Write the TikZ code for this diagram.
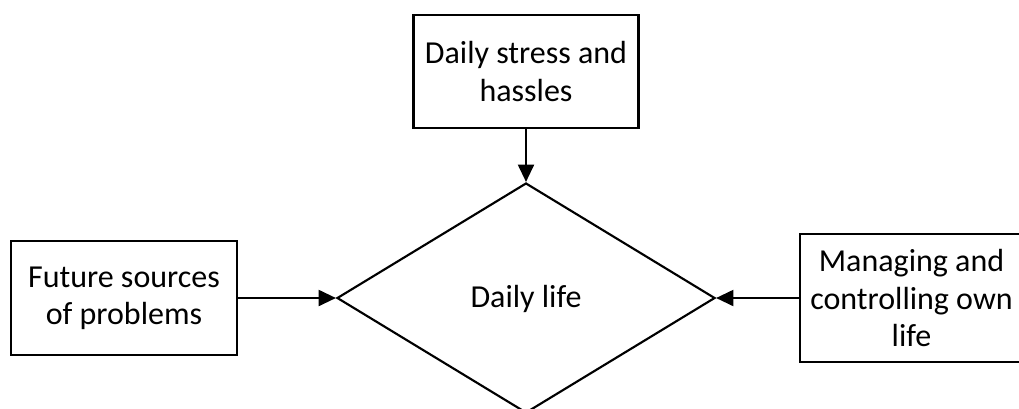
\documentclass[tikz,border=0pt]{standalone}
\usepackage{fontspec}
\setmainfont{Carlito}
\usetikzlibrary{shapes.geometric,arrows.meta}
\begin{document}
\begin{tikzpicture}[x=0.75pt,y=-0.75pt,
  every node/.style={font=\fontsize{24}{28}\selectfont, align=center, inner sep=0pt},
  factor/.style={draw, line width=1.6pt},
  hub/.style={draw, line width=1.6pt, diamond, minimum width=283.5pt, minimum height=172.5pt},
  feed/.style={line width=1.6pt, -{Triangle[length=13pt,width=12pt]}}]
  \useasboundingbox (0,0) rectangle (1019,408);
  % central decision shape
  \node[hub] (life) at (526,298) {};
  \node at (526,299) {Daily life};
  % influencing factors
  \node[factor, minimum width=168.75pt, minimum height=84.75pt] (stress) at (526,71.5)
    {Daily stress and\\hassles};
  \node[factor, minimum width=169.5pt, minimum height=85.5pt] (future) at (124,298)
    {Future sources\\of problems};
  \node[factor, minimum width=167.25pt, minimum height=96pt] (manage) at (911.5,298)
    {Managing and\\controlling own\\life};
  % connectors into the diamond
  \draw[feed] (stress.south) -- (life.north);
  \draw[feed] (future.east) -- (life.west);
  \draw[feed] (manage.west) -- (life.east);
\end{tikzpicture}
\end{document}
